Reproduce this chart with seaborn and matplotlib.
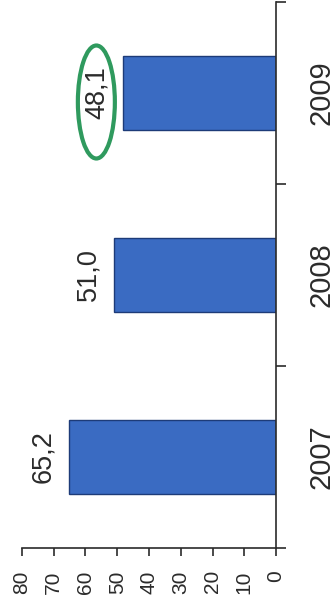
import matplotlib
matplotlib.use("Agg")
import matplotlib.pyplot as plt
from matplotlib.patches import Ellipse
from matplotlib.transforms import IdentityTransform
import pandas as pd
import seaborn as sns

# Data
years = ["2007", "2008", "2009"]
values = [65.2, 51.0, 48.1]
value_ticks = [0, 10, 20, 30, 40, 50, 60, 70, 80]
highlight_year = "2009"

sns.set_theme(style="white")
plt.rcParams["font.family"] = ["Liberation Sans", "DejaVu Sans"]

df = pd.DataFrame({"year": years, "value": values})
order = years[::-1]  # 2009 at the top, 2007 at the bottom

ink = "#2b2b2b"
bar_color = "#3a6bc2"

fig = plt.figure(figsize=(3.36, 6.07), dpi=100)
ax = fig.add_axes([22 / 336, 59 / 607, 254 / 336, 546 / 607])

sns.barplot(
    data=df, x="value", y="year", order=order, orient="h",
    color=bar_color, saturation=1, width=0.41,
    edgecolor="#1d3b78", linewidth=1.0, ax=ax,
)

ax.set_xlim(80, 0)
ax.set_ylim(2.5, -0.5)
ax.set_xlabel("")
ax.set_ylabel("")

# Axis lines: value axis along the bottom, category axis at zero on the right
for side in ("top", "left"):
    ax.spines[side].set_visible(False)
for side in ("bottom", "right"):
    ax.spines[side].set_visible(True)
    ax.spines[side].set_color(ink)
    ax.spines[side].set_linewidth(1.2)

ax.set_xticks(value_ticks)
ax.set_xticklabels([str(v) for v in value_ticks], rotation=90,
                   rotation_mode="default", ha="center", va="top")
ax.tick_params(axis="x", which="major", bottom=True, direction="out",
               length=6, width=1.2, color=ink, labelsize=15,
               labelcolor=ink, pad=10)

# Year labels centred on the bars, tick marks between categories
ax.yaxis.tick_right()
ax.set_yticks(range(len(order)))
ax.set_yticklabels(order, rotation=90, rotation_mode="default",
                   va="center", ha="left")
ax.set_yticks([i - 0.5 for i in range(len(order) + 1)], minor=True)
ax.tick_params(axis="y", which="major", left=False, right=True, length=0,
               labelleft=False, labelright=True, labelsize=21,
               labelcolor=ink, pad=22.8)
ax.tick_params(axis="y", which="minor", left=False, right=True,
               direction="out", length=7.5, width=1.2, color=ink)

# Value labels at the bar ends
container = ax.containers[0]
texts = ax.bar_label(
    container, fmt=lambda v: f"{v:.1f}".replace(".", ","),
    padding=9.3, rotation=90, fontsize=19.5, color=ink,
)

# Green ring around the highlighted value
fig.canvas.draw()
renderer = fig.canvas.get_renderer()
hi_pos = order.index(highlight_year)
for bar, txt in zip(container.patches, texts):
    if abs(bar.get_y() + bar.get_height() / 2 - hi_pos) < 1e-6:
        bb = txt.get_window_extent(renderer)
        cx = (bb.x0 + bb.x1) / 2 - 1
        cy = (bb.y0 + bb.y1) / 2 - 9
        ring = Ellipse((cx, cy), width=37, height=113, fill=False,
                       edgecolor="#2f9a5e", linewidth=3.0,
                       transform=IdentityTransform(), clip_on=False)
        fig.add_artist(ring)

fig.savefig("out.png", dpi=100, facecolor="white")
